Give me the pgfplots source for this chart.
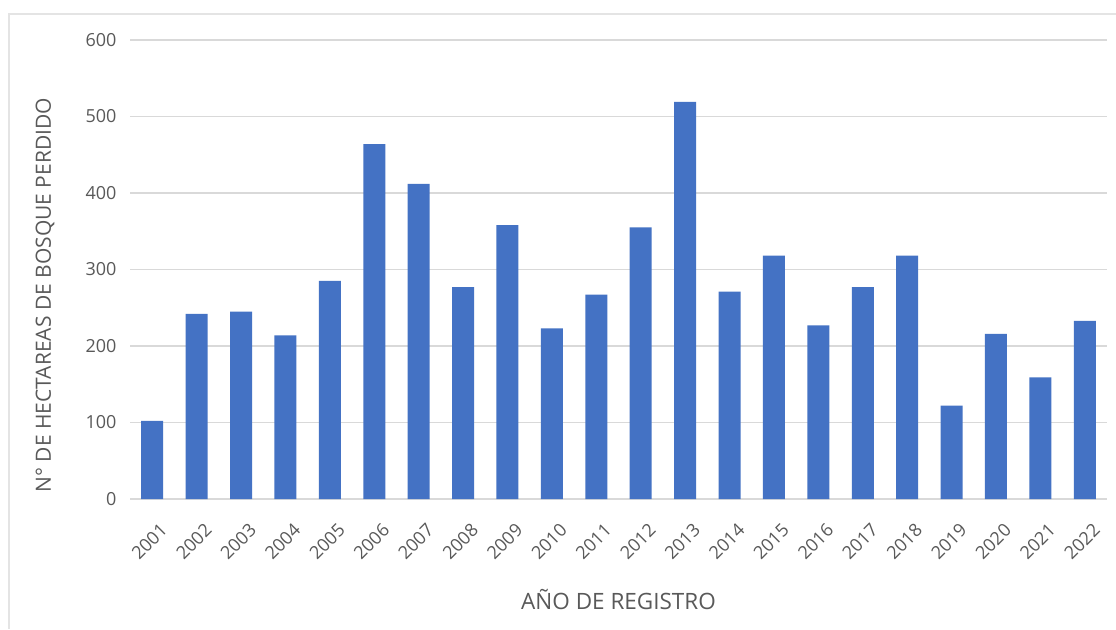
\documentclass[border=0pt]{standalone}
\usepackage{fontspec}
\setmainfont{Open Sans}
\usepackage{pgfplots}
\pgfplotsset{compat=1.18}
\definecolor{barblue}{HTML}{4472C4}
\definecolor{txtgray}{HTML}{595959}
\definecolor{gridgray}{HTML}{D9D9D9}
\begin{document}
\begin{tikzpicture}[x=1pt,y=1pt]
\useasboundingbox (0,0) rectangle (1116,629);
\fill[white] (0,0) rectangle (1116,629);
\draw[color=gridgray!70, line width=1.5pt] (9,0) -- (9,615) -- (1116,615);
\begin{axis}[
  at={(130pt,130pt)}, anchor=south west,
  scale only axis, width=977pt, height=459pt,
  xmin=-0.5, xmax=21.5, ymin=0, ymax=600,
  ytick={0,100,...,600},
  xtick={0,...,21},
  xticklabels={2001,2002,2003,2004,2005,2006,2007,2008,2009,2010,2011,2012,2013,2014,2015,2016,2017,2018,2019,2020,2021,2022},
  axis line style={draw=none},
  major tick length=0pt,
  ymajorgrids, grid style={gridgray, line width=1.5pt},
  /pgf/number format/assume math mode=true,
  tick label style={font=\fontsize{18}{22}\selectfont, text=txtgray},
  yticklabel style={xshift=-10pt},
  xticklabel style={rotate=45, anchor=north east, xshift=-8pt, yshift=-18pt},
  xlabel={AÑO DE REGISTRO},
  ylabel={N° DE HECTAREAS DE BOSQUE PERDIDO},
  xlabel style={font=\fontsize{22.5}{26}\selectfont, text=txtgray, at={(axis description cs:0.5,-0.218)}, anchor=center},
  ylabel style={font=\fontsize{21}{25}\selectfont, text=txtgray, at={(axis description cs:-0.087,0.444)}, anchor=center, rotate=0},
  clip=false,
]
\addplot[ybar, bar width=22pt, fill=barblue, draw=none] coordinates {
(0,102) (1,242) (2,245) (3,214) (4,285) (5,464) (6,412) (7,277) (8,358) (9,223) (10,267)
(11,355) (12,519) (13,271) (14,318) (15,227) (16,277) (17,318) (18,122) (19,216) (20,159) (21,233)
};
\end{axis}
\end{tikzpicture}
\end{document}
